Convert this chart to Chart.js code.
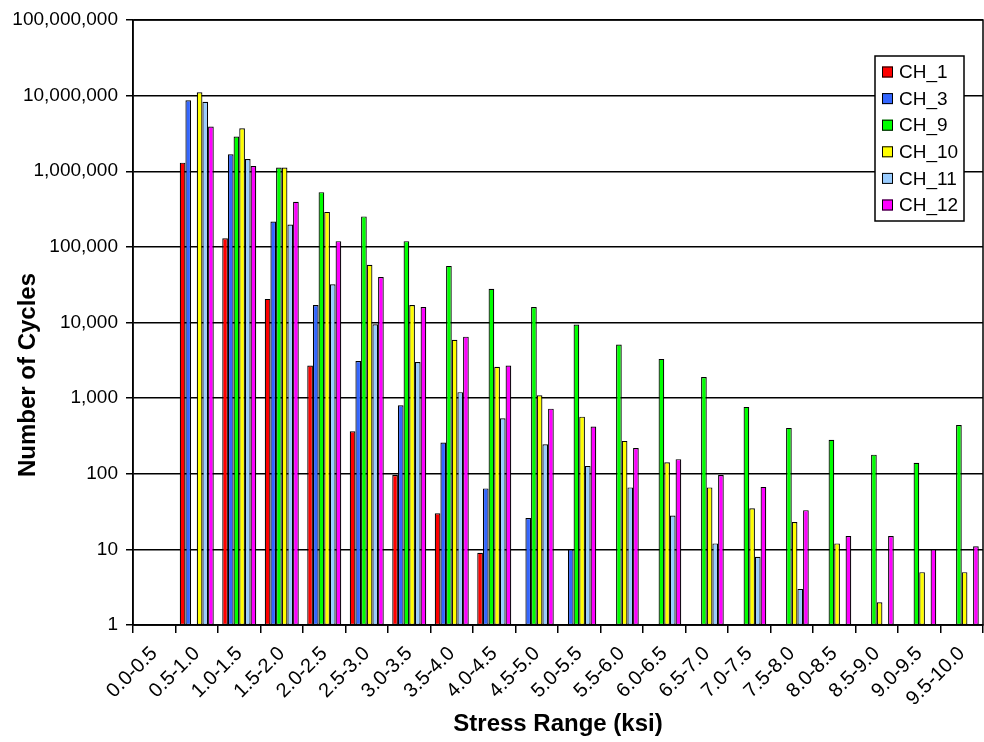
<!DOCTYPE html>
<html>
<head>
<meta charset="utf-8">
<script src="https://cdn.jsdelivr.net/npm/chart.js@4/dist/chart.umd.min.js"></script>
<style>
  html, body { margin: 0; padding: 0; background: #fff; }
  #wrap { width: 984px; height: 742px; }
</style>
</head>
<body>
<div id="wrap"><canvas id="myChart" width="984" height="742"></canvas></div>
<script>
var categories = ["0.0-0.5", "0.5-1.0", "1.0-1.5", "1.5-2.0", "2.0-2.5", "2.5-3.0", "3.0-3.5", "3.5-4.0",
    "4.0-4.5", "4.5-5.0", "5.0-5.5", "5.5-6.0", "6.0-6.5", "6.5-7.0", "7.0-7.5", "7.5-8.0",
    "8.0-8.5", "8.5-9.0", "9.0-9.5", "9.5-10.0"];

var ch1 = [null, 1300000, 130000, 20500, 2700, 365, 96, 30, 9, null, null, null, null, null, null, null, null, null, null, null];
var ch3 = [null, 8700000, 1680000, 216000, 17000, 3100, 805, 258, 64, 26, 10, null, null, null, null, null, null, null, null, null];
var ch9 = [null, null, 2880000, 1120000, 529000, 253000, 119000, 56000, 28000, 16000, 9400, 5100, 3300, 1900, 765, 404, 282, 179, 140, 442];
var ch10 = [null, 11100000, 3700000, 1120000, 290000, 58000, 17000, 5900, 2600, 1090, 569, 272, 142, 66, 35, 23, 12, 2, 5, 5];
var ch11 = [null, 8300000, 1450000, 198000, 32000, 9500, 3000, 1200, 542, 246, 127, 66, 28, 12, 8, 3, null, null, null, null];
var ch12 = [null, 3900000, 1170000, 394000, 119000, 40000, 16000, 6500, 2700, 726, 420, 219, 156, 96, 67, 33, 15, 15, 10, 11];

var seriesNames = ["CH_1", "CH_3", "CH_9", "CH_10", "CH_11", "CH_12"];
var seriesColors = ["#FF0000", "#3366FF", "#00FF00", "#FFFF00", "#99CCFF", "#FF00FF"];
var yTicks = [1, 10, 100, 1000, 10000, 100000, 1000000, 10000000, 100000000];

var FONT = "'Liberation Sans', Arial, sans-serif";

// legend box + y title + plot frame, drawn the way the spreadsheet did it
var excelBits = {
    id: 'excelBits',
    afterDraw: function(chart) {
        var ctx = chart.ctx;
        var a = chart.chartArea;
        ctx.save();
        ctx.strokeStyle = '#000';
        ctx.lineWidth = 1.5;
        ctx.strokeRect(a.left, a.top, a.right - a.left, a.bottom - a.top);

        // y title
        ctx.translate(28, 375);
        ctx.rotate(-Math.PI / 2);
        ctx.font = "bold 24px " + FONT;
        ctx.fillStyle = '#000';
        ctx.textAlign = 'center';
        ctx.textBaseline = 'middle';
        ctx.fillText('Number of Cycles', 0, 0);
        ctx.restore();

        // legend
        ctx.save();
        ctx.fillStyle = '#fff';
        ctx.fillRect(875, 56, 89, 165);
        ctx.strokeStyle = '#000';
        ctx.lineWidth = 1.5;
        ctx.strokeRect(875, 56, 89, 165);
        ctx.font = "19px " + FONT;
        ctx.textBaseline = 'middle';
        ctx.textAlign = 'left';
        chart.data.datasets.forEach(function(ds, i) {
            var cy = 72 + i * 26.6;
            ctx.fillStyle = ds.backgroundColor;
            ctx.fillRect(882, cy - 5.5, 11, 11);
            ctx.lineWidth = 1;
            ctx.strokeStyle = '#000';
            ctx.strokeRect(882.5, cy - 5, 10, 10);
            ctx.fillStyle = '#000';
            ctx.fillText(ds.label, 899, cy + 1);
        });
        ctx.restore();
    }
};

var seriesData = [ch1, ch3, ch9, ch10, ch11, ch12];

var ctx = document.getElementById("myChart");
var myChart = new Chart(ctx, {
    type: 'bar',
    data: {
        labels: categories,
        datasets: seriesNames.map(function(name, i) {
            return {
                label: name,
                data: seriesData[i],
                backgroundColor: seriesColors[i],
                borderColor: '#000',
                borderWidth: 1.2,
                borderSkipped: false,
                categoryPercentage: 0.8,
                barPercentage: 1.0
            };
        })
    },
    options: {
        responsive: false,
        animation: false,
        layout: { padding: { top: 20, right: 1, left: 0, bottom: 0 } },
        plugins: {
            legend: { display: false },
            tooltip: { enabled: false }
        },
        scales: {
            x: {
                offset: true,
                grid: { offset: true, drawOnChartArea: false, drawTicks: true, tickLength: 8, color: '#000', lineWidth: 1.5 },
                border: { color: '#000', width: 1.5 },
                ticks: {
                    autoSkip: false, maxRotation: 45, minRotation: 45, padding: 9,
                    color: '#000', font: { family: FONT, size: 20 }
                },
                title: {
                    display: true, text: 'Stress Range (ksi)', color: '#000',
                    font: { family: FONT, size: 24, weight: 'bold' },
                    padding: { top: 0, bottom: 3 }
                },
                afterFit: function(s) {
                    s.height = 117;
                    s.paddingLeft = 0;
                    s.paddingRight = 0;
                }
            },
            y: {
                type: 'logarithmic',
                min: 1,
                max: 100000000,
                afterBuildTicks: function(s) {
                    s.ticks = yTicks.map(function(v) { return { value: v }; });
                },
                afterFit: function(s) {
                    s.width = 133;
                    s.paddingTop = 0;
                    s.paddingBottom = 0;
                },
                grid: { color: '#000', lineWidth: 1.5, tickLength: 7 },
                border: { color: '#000', width: 1.5 },
                ticks: {
                    autoSkip: false, padding: 8, color: '#000',
                    font: { family: FONT, size: 19 },
                    callback: function(v) { return Number(v).toLocaleString('en-US'); }
                }
            }
        }
    },
    plugins: [excelBits]
});
</script>
</body>
</html>
